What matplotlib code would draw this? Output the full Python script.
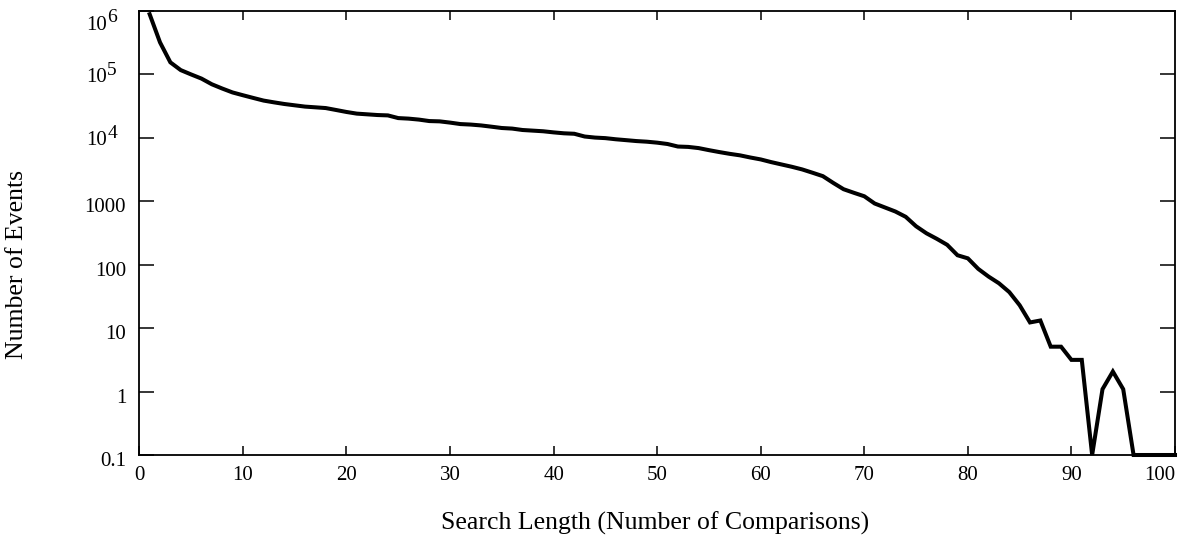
#!/usr/bin/env python3
"""
Search length distribution: number of events vs. number of comparisons,
log-scale y axis, single thick black curve.
"""

import numpy as np
import matplotlib
matplotlib.use('Agg')
import matplotlib.pyplot as plt
from matplotlib.transforms import blended_transform_factory, offset_copy, ScaledTranslation

# Search length (number of comparisons)
search_length = list(range(1, 101))

# Number of events per search length (0.1 = floor)
events = [
    8.9e5, 3.2e5, 1.55e5, 1.17e5, 1.0e5, 8.6e4, 7.0e4, 6.0e4, 5.2e4, 4.7e4,
    4.26e4, 3.87e4, 3.63e4, 3.42e4, 3.26e4, 3.11e4, 3.03e4, 2.95e4, 2.75e4, 2.56e4,
    2.41e4, 2.35e4, 2.29e4, 2.26e4, 2.05e4, 2.01e4, 1.94e4, 1.84e4, 1.82e4, 1.74e4,
    1.65e4, 1.62e4, 1.57e4, 1.50e4, 1.43e4, 1.40e4, 1.33e4, 1.30e4, 1.27e4, 1.22e4,
    1.18e4, 1.16e4, 1.05e4, 1.01e4, 9.9e3, 9.5e3, 9.2e3, 8.9e3, 8.7e3, 8.4e3,
    8.0e3, 7.3e3, 7.2e3, 6.9e3, 6.4e3, 5.97e3, 5.6e3, 5.3e3, 4.9e3, 4.57e3,
    4.15e3, 3.81e3, 3.5e3, 3.18e3, 2.82e3, 2.49e3, 1.95e3, 1.55e3, 1.36e3, 1.2e3,
    923, 798, 690, 569, 404, 313, 256, 206, 141, 126,
    86, 65, 51, 37, 23, 12.3, 13.2, 5.1, 5.1, 3.16,
    3.16, 0.1, 1.09, 2.07, 1.09, 0.1, 0.1, 0.1, 0.1, 0.1,
]

x_ticks = [0, 10, 20, 30, 40, 50, 60, 70, 80, 90, 100]
y_ticks = [0.1, 1, 10, 100, 1000, 1e4, 1e5, 1e6]
y_tick_labels = ['0.1', '1', '10', '100', '1000', '', '', '']
# powers of ten drawn as "10" + full-size superscript
pow_ticks = [1e4, 1e5, 1e6]
pow_exps = ['4', '5', '6']

plt.rcParams.update({
    'font.family': ['Liberation Serif', 'DejaVu Serif'],
    'font.size': 15,
})

fig = plt.figure(figsize=(11.78, 5.35), dpi=100)
ax = fig.add_axes([139.3 / 1178, 1 - 455 / 535, (1175 - 139.3) / 1178, (455 - 11) / 535])

ax.plot(search_length, events, color='black', linewidth=2.9, clip_on=False,
        solid_joinstyle='miter')

ax.set_yscale('log')
ax.set_xlim(0, 100)
ax.set_ylim(0.1, 1e6)

ax.set_xticks(x_ticks)
ax.set_xticklabels([str(t) for t in x_ticks])
ax.set_yticks(y_ticks)
ax.set_yticklabels(y_tick_labels)
ax.yaxis.set_minor_locator(matplotlib.ticker.NullLocator())

ax.tick_params(axis='y', which='major', direction='in', length=11, width=1.1,
               right=True, pad=9.5, labelsize=15)
ax.tick_params(axis='x', which='major', direction='in', length=6.5, width=1.1,
               top=True, pad=8, labelsize=15)
ax.get_xticklabels()[-1].set_horizontalalignment('right')

# labels sit a little below their ticks, as in the original
shift = ScaledTranslation(0, -4 / 100, fig.dpi_scale_trans)
for lab in ax.get_yticklabels():
    lab.set_transform(lab.get_transform() + shift)

trans = blended_transform_factory(ax.transAxes, ax.transData)
for val, e in zip(pow_ticks, pow_exps):
    dy = -14 if val == 1e6 else -3
    t_base = offset_copy(trans, fig=fig, x=-32, y=dy, units='dots')
    ax.text(0, val, '10', transform=t_base, ha='right', va='center',
            fontsize=15, clip_on=False)
    t_exp = offset_copy(trans, fig=fig, x=-32, y=dy + 7, units='dots')
    ax.text(0, val, e, transform=t_exp, ha='left', va='center',
            fontsize=14, clip_on=False)

for s in ax.spines.values():
    s.set_linewidth(1.3)

fig.text(655 / 1178, 1 - 530 / 535, 'Search Length (Number of Comparisons)',
         ha='center', va='baseline', fontsize=18.5)
fig.text(17 / 1178, 1 - 265 / 535, 'Number of Events', rotation=90,
         ha='center', va='center', fontsize=18.5)

fig.savefig('out.png', dpi=100)
